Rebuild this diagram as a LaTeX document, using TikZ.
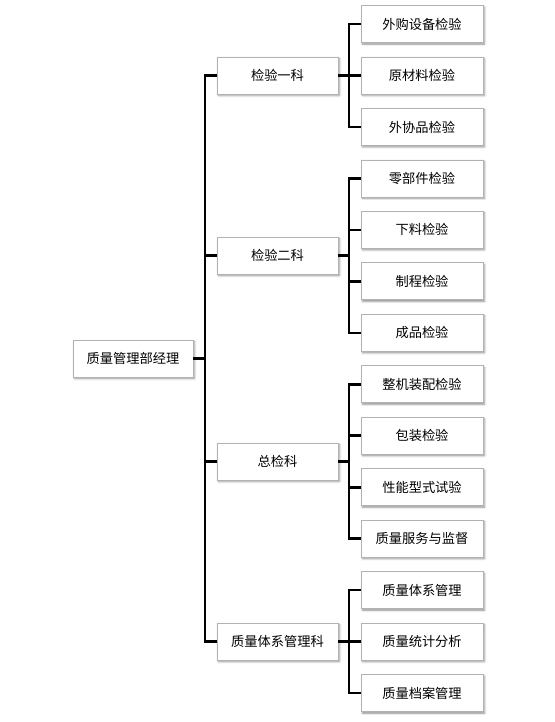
\documentclass[tikz,border=0pt]{standalone}
\usepackage{fontspec}
\newfontfamily\cjk{Noto Sans CJK SC}
\usetikzlibrary{positioning, shadows.blur, calc}

\begin{document}
\begin{tikzpicture}[
    x=0.03cm, y=-0.03cm,
    node distance=0.434cm,
    box/.style={
        rectangle, draw=gray!60, fill=white, line width=0.6pt, outer sep=0pt,
        minimum height=1.11cm, inner sep=2pt,
        font=\cjk\fontsize{11.3}{13}\selectfont,
        blur shadow={shadow xshift=1.3pt, shadow yshift=-1.3pt,
                     shadow blur steps=4, shadow opacity=45}
    },
    leaf/.style={box, minimum width=3.66cm},
    dept/.style={box, minimum width=3.63cm},
    link/.style={line width=2.2pt}
]
\useasboundingbox (0,0) rectangle (554,722);

% Leaf boxes, one column
\node[leaf] at (422,24) (la1) {外购设备检验};
\node[leaf, below=of la1] (la2) {原材料检验};
\node[leaf, below=of la2] (la3) {外协品检验};
\node[leaf, below=of la3] (lb1) {零部件检验};
\node[leaf, below=of lb1] (lb2) {下料检验};
\node[leaf, below=of lb2] (lb3) {制程检验};
\node[leaf, below=of lb3] (lb4) {成品检验};
\node[leaf, below=of lb4] (lc1) {整机装配检验};
\node[leaf, below=of lc1] (lc2) {包装检验};
\node[leaf, below=of lc2] (lc3) {性能型式试验};
\node[leaf, below=of lc3] (lc4) {质量服务与监督};
\node[leaf, below=of lc4] (ld1) {质量体系管理};
\node[leaf, below=of ld1] (ld2) {质量统计分析};
\node[leaf, below=of ld2] (ld3) {质量档案管理};

% Department boxes
\coordinate (mA) at ($(la1.west)!0.5!(la3.west)$);
\coordinate (mB) at ($(lb1.west)!0.5!(lb4.west)$);
\coordinate (mC) at ($(lc1.west)!0.5!(lc4.west)$);
\coordinate (mD) at ($(ld1.west)!0.5!(ld3.west)$);
\node[dept, left=0.69cm of mA] (ka) {检验一科};
\node[dept, left=0.69cm of mB] (kb) {检验二科};
\node[dept, left=0.69cm of mC] (kc) {总检科};
\node[dept, left=0.69cm of mD] (kd) {质量体系管理科};

% Root box
\coordinate (m0) at ($(ka.west)!0.5!(kd.west)$);
\node[box, minimum width=3.6cm, left=0.72cm of m0] (root) {质量管理部经理};

% Main trunk
\draw[link] (root.east) -- ++(12,0);
\draw[link] (ka.west) -- ++(-12,0) |- (kd.west);
\draw[link] (kb.west) -- ++(-12,0);
\draw[link] (kc.west) -- ++(-12,0);

% Branches to leaves
\draw[link] (ka.east) -- ++(11,0);
\draw[link] (la1.west) -- ++(-12,0) |- (la3.west);
\draw[link] (la2.west) -- ++(-12,0);

\draw[link] (kb.east) -- ++(11,0);
\draw[link] (lb1.west) -- ++(-12,0) |- (lb4.west);
\draw[link] (lb2.west) -- ++(-12,0);
\draw[link] (lb3.west) -- ++(-12,0);

\draw[link] (kc.east) -- ++(11,0);
\draw[link] (lc1.west) -- ++(-12,0) |- (lc4.west);
\draw[link] (lc2.west) -- ++(-12,0);
\draw[link] (lc3.west) -- ++(-12,0);

\draw[link] (kd.east) -- ++(11,0);
\draw[link] (ld1.west) -- ++(-12,0) |- (ld3.west);
\draw[link] (ld2.west) -- ++(-12,0);

\end{tikzpicture}
\end{document}
